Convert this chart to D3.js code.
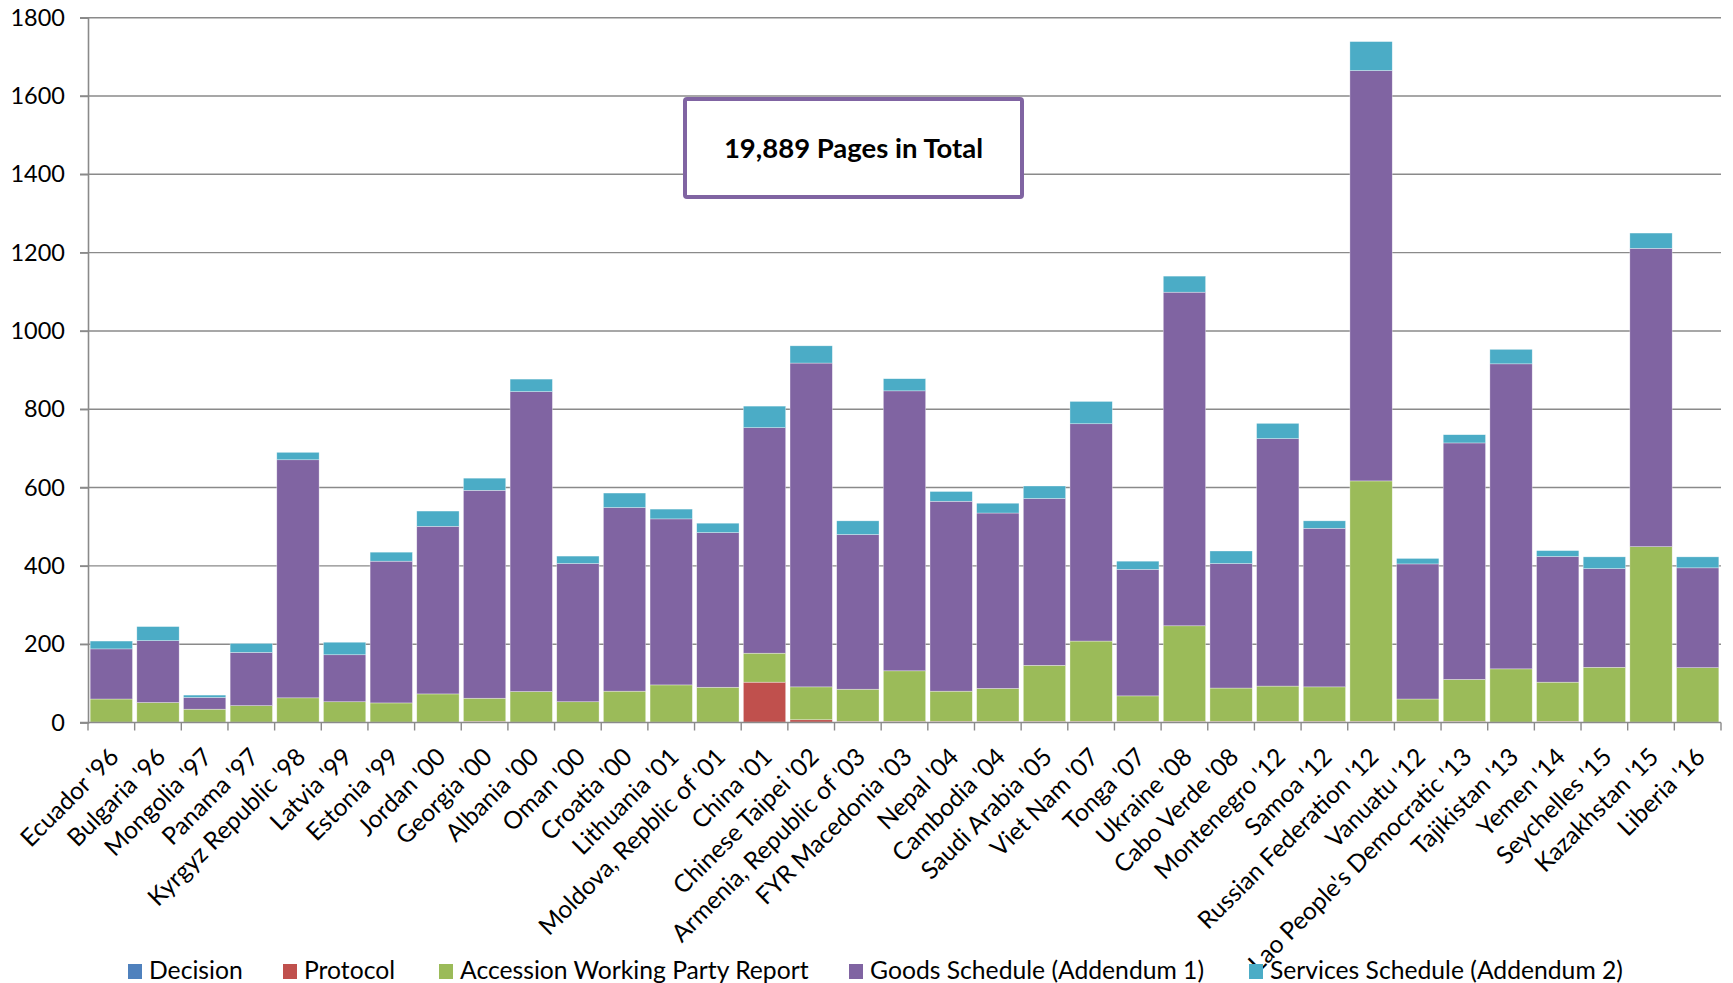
<!DOCTYPE html>
<html>
<head>
<meta charset="utf-8">
<script src="https://cdn.jsdelivr.net/npm/d3@7"></script>
<style>
  html, body { margin: 0; padding: 0; background: #ffffff; }
  svg { display: block; font-family: Lato, "Liberation Sans", sans-serif; }
</style>
</head>
<body>
<svg id="chart" width="1733" height="983"></svg>
<script>
// ---- data ----
const categories = ["Ecuador '96","Bulgaria '96","Mongolia '97","Panama '97","Kyrgyz Republic '98","Latvia '99","Estonia '99","Jordan '00","Georgia '00","Albania '00","Oman '00","Croatia '00","Lithuania '01","Moldova, Repblic of '01","China '01","Chinese Taipei '02","Armenia, Republic of '03","FYR Macedonia '03","Nepal '04","Cambodia '04","Saudi Arabia '05","Viet Nam '07","Tonga '07","Ukraine '08","Cabo Verde '08","Montenegro '12","Samoa '12","Russian Federation '12","Vanuatu '12","Lao People's Democratic '13","Tajikistan '13","Yemen '14","Seychelles '15","Kazakhstan '15","Liberia '16"];

const seriesNames = ["Decision","Protocol","Accession Working Party Report","Goods Schedule (Addendum 1)","Services Schedule (Addendum 2)"];

const decision = [1,1,1,1,1,1,1,1,1,1,1,1,1,1,1,1,1,1,1,1,1,1,1,1,1,1,1,1,1,1,1,1,1,1,1];
const protocol = [0,0,0,0,0,0,0,0,2,0,0,0,0,0,102,6,2,2,2,2,2,2,2,2,2,2,2,2,2,2,0,2,0,0,0];
const workingPartyReport = [59,50,33,42,62,52,49,72,59,78,52,79,95,89,74,84,82,129,77,84,143,205,65,244,85,90,88,614,57,107,136,100,140,448,139];
const goodsSchedule = [128,158,30,136,608,120,362,428,531,766,353,469,424,395,576,827,395,715,485,448,426,555,323,852,318,632,405,1048,345,604,779,321,252,762,255];
const servicesSchedule = [20,36,6,23,19,32,23,39,31,32,19,37,25,24,55,44,35,31,25,25,32,57,21,41,32,39,19,74,14,21,37,15,30,39,28];

const yTicks = [0,200,400,600,800,1000,1200,1400,1600,1800];
const totalLabel = "19,889 Pages in Total";

// ---- styling ----
const colors = ["#4F81BD","#C0504D","#9BBB59","#8064A2","#4BACC6"];
const gridColor = "#8a8a8a";

// ---- layout ----
const svg = d3.select("#chart");
const plotLeft = 88, plotRight = 1721, plotTop = 17.7, plotBottom = 722.5;

const x = d3.scaleBand().domain(categories).range([plotLeft, plotRight]).paddingInner(0.093).paddingOuter(0.0465);
const y = d3.scaleLinear().domain([0, 1800]).range([plotBottom, plotTop]);

// table for stacking
const table = categories.map((c, i) => ({
  cat: c,
  [seriesNames[0]]: decision[i],
  [seriesNames[1]]: protocol[i],
  [seriesNames[2]]: workingPartyReport[i],
  [seriesNames[3]]: goodsSchedule[i],
  [seriesNames[4]]: servicesSchedule[i]
}));
const stacked = d3.stack().keys(seriesNames)(table);

// gridlines
svg.append("g").selectAll("line").data(yTicks.filter(d => d > 0)).join("line")
  .attr("x1", plotLeft - 8).attr("x2", plotRight)
  .attr("y1", d => y(d)).attr("y2", d => y(d))
  .attr("stroke", gridColor).attr("stroke-width", 1.4);

// bars
const color = d3.scaleOrdinal().domain(seriesNames).range(colors);
svg.append("g").selectAll("g").data(stacked).join("g")
  .attr("fill", d => color(d.key))
  .selectAll("rect").data(d => d).join("rect")
  .attr("x", d => x(d.data.cat))
  .attr("width", x.bandwidth())
  .attr("y", d => y(d[1]))
  .attr("height", d => Math.max(0, y(d[0]) - y(d[1])))
  .attr("stroke", "#ffffff").attr("stroke-width", 0.6).attr("stroke-opacity", 0.55);

// y axis
const yAxis = d3.axisLeft(y).tickValues(yTicks).tickSize(8).tickPadding(15).tickFormat(d3.format("d"));
const gy = svg.append("g").attr("transform", `translate(${plotLeft},0)`).call(yAxis);
gy.select(".domain").attr("stroke", gridColor).attr("stroke-width", 1.6);
gy.selectAll(".tick line").attr("stroke", gridColor).attr("stroke-width", 1.4);
gy.selectAll(".tick text").attr("font-size", 23.5).attr("fill", "#000").attr("font-family", "Lato");

// x axis
const gx = svg.append("g").attr("transform", `translate(0,${plotBottom})`);
gx.append("line").attr("x1", plotLeft - 8).attr("x2", plotRight).attr("y1", 0).attr("y2", 0)
  .attr("stroke", gridColor).attr("stroke-width", 1.6);
const step = x.step();
const boundaries = categories.map(c => x(c) - x.paddingInner() * step / 2).concat([plotRight]);
gx.selectAll("line.tk").data(boundaries).join("line").attr("class", "tk")
  .attr("x1", d => d).attr("x2", d => d).attr("y1", 0).attr("y2", 8)
  .attr("stroke", gridColor).attr("stroke-width", 1.4);
gx.selectAll("text").data(categories).join("text")
  .attr("transform", d => `translate(${x(d) + x.bandwidth() / 2 + 9},${36}) rotate(-45)`)
  .attr("text-anchor", "end")
  .attr("font-size", 24.5).attr("fill", "#000")
  .text(d => d);

// legend
const legendX = [128, 283, 439, 849, 1249];
const lg = svg.append("g").selectAll("g").data(seriesNames).join("g")
  .attr("transform", (d, i) => `translate(${legendX[i]},964)`);
lg.append("rect").attr("width", 14).attr("height", 15).attr("fill", d => color(d));
lg.append("text").attr("x", 21).attr("y", 15).attr("font-size", 24.7).attr("fill", "#000").text(d => d);

// annotation box
const box = svg.append("g");
box.append("rect").attr("x", 685).attr("y", 99).attr("width", 337).attr("height", 98)
  .attr("rx", 2).attr("fill", "#fff").attr("stroke", "#8064A2").attr("stroke-width", 4);
box.append("text").attr("x", 853.5).attr("y", 158).attr("text-anchor", "middle")
  .attr("font-size", 27.5).attr("font-weight", "bold").attr("fill", "#000").text(totalLabel);
</script>
</body>
</html>
